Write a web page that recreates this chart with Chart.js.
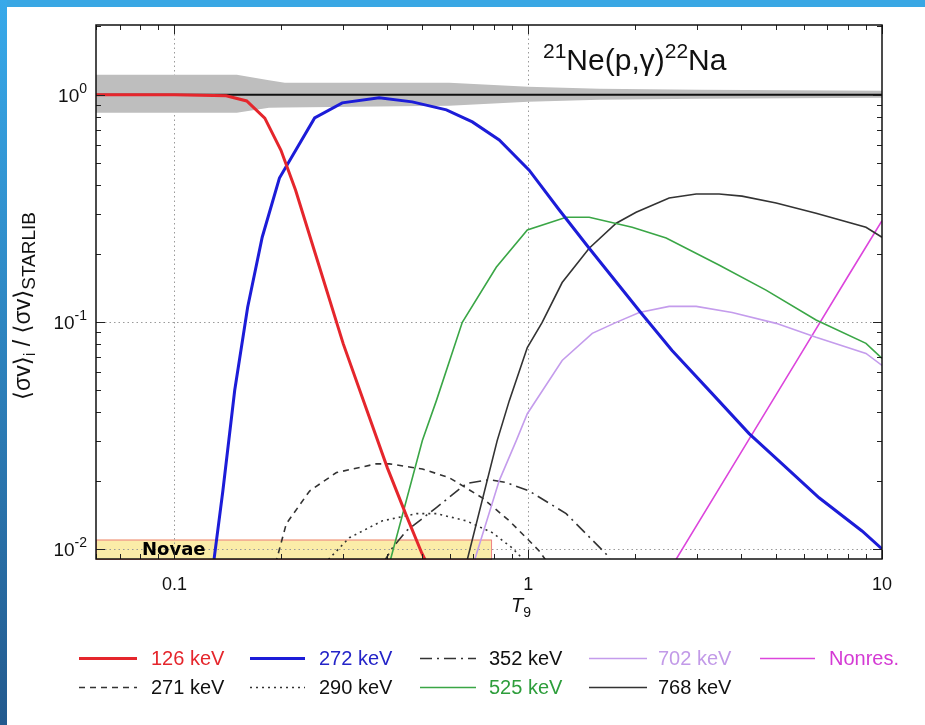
<!DOCTYPE html>
<html>
<head>
<meta charset="utf-8">
<script src="https://cdn.jsdelivr.net/npm/chart.js@4.4.0/dist/chart.umd.min.js"></script>
<style>
  html, body { margin: 0; padding: 0; background: #fff; }
  canvas { display: block; }
</style>
</head>
<body>
<canvas id="c" width="925" height="725"></canvas>
<script>
// Rate ratios <sv>_i / <sv>_STARLIB versus temperature T9 for 21Ne(p,g)22Na

// 126 keV resonance
const t126 = [0.06, 0.10, 0.14, 0.16, 0.18, 0.20, 0.22, 0.25, 0.30, 0.35, 0.40, 0.45, 0.50, 0.53];
const r126 = [1.0, 1.0, 0.99, 0.94, 0.79, 0.57, 0.38, 0.20, 0.080, 0.0407, 0.0227, 0.0143, 0.0096, 0.0080];

// 272 keV resonance
const t272 = [0.129, 0.137, 0.148, 0.161, 0.177, 0.198, 0.249, 0.298, 0.379, 0.470, 0.587, 0.695, 0.828,
              1.006, 1.224, 1.487, 2.06, 2.55, 3.31, 4.21, 5.22, 6.64, 8.78, 10];
const r272 = [0.0087, 0.018, 0.050, 0.116, 0.236, 0.430, 0.791, 0.922, 0.970, 0.931, 0.859, 0.760, 0.633,
              0.466, 0.311, 0.211, 0.112, 0.0748, 0.0483, 0.0322, 0.0237, 0.0168, 0.0120, 0.0100];

// 271 keV resonance
const t271 = [0.193, 0.207, 0.241, 0.287, 0.372, 0.405, 0.502, 0.598, 0.741, 0.884, 0.987, 1.074, 1.14];
const r271 = [0.0086, 0.0129, 0.018, 0.0217, 0.0237, 0.0237, 0.0225, 0.0206, 0.0168, 0.0133, 0.0112, 0.0098, 0.0086];

// 290 keV resonance
const t290 = [0.265, 0.312, 0.387, 0.483, 0.550, 0.668, 0.791, 0.901, 0.995];
const r290 = [0.0086, 0.0112, 0.0133, 0.0143, 0.0143, 0.0133, 0.0118, 0.0101, 0.0086];

// 352 keV resonance
const t352 = [0.388, 0.413, 0.452, 0.550, 0.668, 0.776, 0.867, 1.006, 1.28, 1.66, 1.73];
const r352 = [0.0086, 0.0101, 0.012, 0.0152, 0.0194, 0.0202, 0.0196, 0.018, 0.0143, 0.0095, 0.0086];

// 525 keV resonance
const t525 = [0.405, 0.502, 0.550, 0.651, 0.812, 0.994, 1.28, 1.487, 1.967, 2.454, 3.46, 4.70, 6.51, 9.01, 10];
const r525 = [0.0086, 0.030, 0.045, 0.0995, 0.174, 0.254, 0.289, 0.289, 0.261, 0.234, 0.178, 0.138, 0.102, 0.0804, 0.069];

// 702 keV resonance
const t702 = [0.70, 0.828, 0.925, 0.994, 1.247, 1.517, 1.773, 2.06, 2.502, 2.984, 3.77, 5.02, 6.51, 9.01, 10];
const r702 = [0.0086, 0.020, 0.030, 0.0394, 0.0676, 0.089, 0.0995, 0.110, 0.117, 0.117, 0.110, 0.0985, 0.0855, 0.0726, 0.0643];

// 768 keV resonance
const t768 = [0.668, 0.817, 0.884, 0.994, 1.095, 1.247, 1.487, 1.773, 2.018, 2.502, 2.984, 3.464, 4.02, 5.02, 6.51, 9.01, 10];
const r768 = [0.0086, 0.030, 0.045, 0.0771, 0.0995, 0.149, 0.211, 0.272, 0.304, 0.351, 0.366, 0.366, 0.358, 0.334, 0.301, 0.261, 0.236];

// Non-resonant contribution
const tNonres = [2.5, 4, 6, 8, 10];
const rNonres = [0.0080, 0.0267, 0.0755, 0.158, 0.279];

// STARLIB reference rate and its uncertainty band
const tStarlib = [0.06, 10];
const rStarlib = [1.0, 1.0];
const tBand = [0.06, 0.15, 0.185, 0.205, 0.598, 1.0, 1.587, 3.04, 10];
const bandHigh = [1.225, 1.225, 1.16, 1.13, 1.13, 1.085, 1.063, 1.052, 1.041];
const bandLow = [0.833, 0.833, 0.876, 0.88, 0.894, 0.931, 0.951, 0.960, 0.970];

// Nova temperature range
const novaeT = [0.06, 0.785];
const novaeTop = 0.011;

// Axis ranges and tick labels
const xRange = [0.06, 10];
const yRange = [0.00903, 2.03];
const xMajor = [0.1, 1, 10];
const xMajorLabels = ['0.1', '1', '10'];
const yMajor = [0.01, 0.1, 1];
const yMajorExp = ['-2', '-1', '0'];

const legendRows = [
  ['126 keV', '272 keV', '352 keV', '702 keV', 'Nonres.'],
  ['271 keV', '290 keV', '525 keV', '768 keV']
];

const pts = (t, r) => t.map((x, i) => ({ x, y: r[i] }));

const SANS = '"Liberation Sans", Arial, "DejaVu Sans", sans-serif';

const series = [
  { label: 'bandHigh', data: pts(tBand, bandHigh), borderWidth: 0, borderColor: 'rgba(0,0,0,0)',
    backgroundColor: 'rgb(190,190,190)', fill: '+1', order: 20 },
  { label: 'bandLow', data: pts(tBand, bandLow), borderWidth: 0, borderColor: 'rgba(0,0,0,0)', fill: false, order: 21 },
  { label: 'STARLIB', data: pts(tStarlib, rStarlib), borderColor: '#111', borderWidth: 2, order: 15 },
  { label: '271 keV', data: pts(t271, r271), borderColor: '#333', borderWidth: 1.6, borderDash: [6, 5], order: 8, text: '#111' },
  { label: '290 keV', data: pts(t290, r290), borderColor: '#333', borderWidth: 1.6, borderDash: [2, 4], order: 8, text: '#111' },
  { label: '352 keV', data: pts(t352, r352), borderColor: '#333', borderWidth: 1.6, borderDash: [12, 5, 2, 5], order: 8, text: '#111' },
  { label: '525 keV', data: pts(t525, r525), borderColor: '#3aa646', borderWidth: 1.6, order: 6, text: '#2e9e3c' },
  { label: '702 keV', data: pts(t702, r702), borderColor: '#c49cec', borderWidth: 1.6, order: 6, text: '#c29ae8' },
  { label: '768 keV', data: pts(t768, r768), borderColor: '#333', borderWidth: 1.6, order: 6, text: '#111' },
  { label: 'Nonres.', data: pts(tNonres, rNonres), borderColor: '#dc45dc', borderWidth: 1.6, order: 6, text: '#d43ad4' },
  { label: '272 keV', data: pts(t272, r272), borderColor: '#1c1cd8', borderWidth: 3, order: 2, text: '#2424c8' },
  { label: '126 keV', data: pts(t126, r126), borderColor: '#e5262c', borderWidth: 3, order: 1, text: '#e5262c' }
];

// Draws a sequence of text runs [text, size, dy, fontPrefix] starting at x
function drawRuns(ctx, runs, x, y, align) {
  let total = 0;
  runs.forEach(r => { ctx.font = (r[3] || '') + ' ' + r[1] + 'px ' + SANS; total += ctx.measureText(r[0]).width; });
  let cx = align === 'center' ? x - total / 2 : align === 'right' ? x - total : x;
  ctx.textAlign = 'left';
  ctx.textBaseline = 'alphabetic';
  runs.forEach(r => {
    ctx.font = (r[3] || '') + ' ' + r[1] + 'px ' + SANS;
    ctx.fillText(r[0], cx, y + (r[2] || 0));
    cx += ctx.measureText(r[0]).width;
  });
}

function minorsBetween(lo, hi) {
  const out = [];
  for (let e = Math.floor(Math.log10(lo)); e <= Math.ceil(Math.log10(hi)); e++) {
    for (let m = 1; m <= 9; m++) {
      const v = m * Math.pow(10, e);
      if (v >= lo * 0.999 && v <= hi * 1.001) out.push({ v, major: m === 1 });
    }
  }
  return out;
}

const decor = {
  id: 'decor',
  beforeDraw(chart) {
    const { ctx, width, height } = chart;
    ctx.save();
    ctx.fillStyle = '#fff';
    ctx.fillRect(0, 0, width, height);
    ctx.fillStyle = '#39a7e4';
    ctx.fillRect(0, 0, width, 7);
    const g = ctx.createLinearGradient(0, 0, 0, height);
    g.addColorStop(0, '#37a9ea');
    g.addColorStop(1, '#235a8e');
    ctx.fillStyle = g;
    ctx.fillRect(0, 0, 7, height);
    ctx.restore();
  },
  beforeDatasetsDraw(chart) {
    const { ctx, chartArea: a, scales: { x, y } } = chart;
    ctx.save();
    // nova band
    const nx0 = x.getPixelForValue(novaeT[0]);
    const nx1 = x.getPixelForValue(novaeT[1]);
    const ny0 = y.getPixelForValue(novaeTop);
    ctx.fillStyle = 'rgb(251,236,168)';
    ctx.fillRect(nx0, ny0, nx1 - nx0, a.bottom - ny0);
    ctx.strokeStyle = 'rgb(238,130,130)';
    ctx.lineWidth = 1;
    ctx.strokeRect(nx0 + 0.5, ny0 + 0.5, nx1 - nx0, a.bottom - ny0);
    // dotted grid
    ctx.strokeStyle = '#9a9a9a';
    ctx.setLineDash([1.5, 3]);
    ctx.lineWidth = 1;
    [0.1, 1].forEach(v => {
      const px = Math.round(x.getPixelForValue(v)) + 0.5;
      ctx.beginPath(); ctx.moveTo(px, a.top); ctx.lineTo(px, a.bottom); ctx.stroke();
    });
    [0.01, 0.1].forEach(v => {
      const py = Math.round(y.getPixelForValue(v)) + 0.5;
      ctx.beginPath(); ctx.moveTo(a.left, py); ctx.lineTo(a.right, py); ctx.stroke();
    });
    ctx.setLineDash([]);
    ctx.fillStyle = '#000';
    ctx.font = 'bold 18px "DejaVu Sans", sans-serif';
    ctx.textAlign = 'left';
    ctx.textBaseline = 'alphabetic';
    ctx.fillText('Novae', 142, 555);
    ctx.restore();
  },
  afterDatasetsDraw(chart) {
    const { ctx, chartArea: a, scales: { x, y } } = chart;
    ctx.save();
    // tick marks inside the frame
    ctx.strokeStyle = '#222';
    ctx.lineWidth = 1;
    minorsBetween(xRange[0], xRange[1]).forEach(t => {
      const px = Math.round(x.getPixelForValue(t.v)) + 0.5;
      const len = t.major ? 9 : 5;
      ctx.beginPath();
      ctx.moveTo(px, a.bottom); ctx.lineTo(px, a.bottom - len);
      ctx.moveTo(px, a.top); ctx.lineTo(px, a.top + len);
      ctx.stroke();
    });
    minorsBetween(yRange[0], yRange[1]).forEach(t => {
      const py = Math.round(y.getPixelForValue(t.v)) + 0.5;
      const len = t.major ? 9 : 5;
      ctx.beginPath();
      ctx.moveTo(a.left, py); ctx.lineTo(a.left + len, py);
      ctx.moveTo(a.right, py); ctx.lineTo(a.right - len, py);
      ctx.stroke();
    });
    // frame
    ctx.strokeStyle = '#111';
    ctx.lineWidth = 1.5;
    ctx.strokeRect(a.left, a.top, a.right - a.left, a.bottom - a.top);

    // tick labels
    ctx.fillStyle = '#111';
    xMajor.forEach((v, i) => {
      drawRuns(ctx, [[xMajorLabels[i], 18]], x.getPixelForValue(v), 590, 'center');
    });
    yMajor.forEach((v, i) => {
      const py = y.getPixelForValue(v);
      drawRuns(ctx, [['10', 19], [yMajorExp[i], 14, -9]], 87, py + 7, 'right');
    });

    // axis titles
    drawRuns(ctx, [['T', 20, 0, 'italic'], ['9', 14, 5]], 521, 612, 'center');
    ctx.save();
    ctx.translate(30, 306);
    ctx.rotate(-Math.PI / 2);
    drawRuns(ctx, [['\u27E8\u03C3v\u27E9', 23], ['i', 17, 5], [' / \u27E8\u03C3v\u27E9', 23], ['STARLIB', 19, 5]], 0, 0, 'center');
    ctx.restore();

    // reaction label
    drawRuns(ctx, [['21', 21, -12], ['Ne(p,\u03B3)', 30], ['22', 21, -12], ['Na', 30]], 543, 70, 'left');

    // legend
    const cols = [[79, 137, 151], [250, 305, 319], [420, 476, 489], [589, 647, 658], [760, 815, 829]];
    const rowsY = [658, 687];
    legendRows.forEach((row, ri) => {
      row.forEach((lab, ci) => {
        const ds = chart.data.datasets.find(d => d.label === lab);
        const [l0, l1, tx] = cols[ci];
        const ly = rowsY[ri];
        ctx.strokeStyle = ds.borderColor;
        ctx.lineWidth = ds.borderWidth;
        ctx.setLineDash(ds.borderDash || []);
        ctx.beginPath(); ctx.moveTo(l0, ly + 0.5); ctx.lineTo(l1, ly + 0.5); ctx.stroke();
        ctx.setLineDash([]);
        ctx.fillStyle = ds.text;
        drawRuns(ctx, [[lab, 20]], tx, ly + 7, 'left');
      });
    });
    ctx.restore();
  }
};

new Chart(document.getElementById('c'), {
  type: 'line',
  data: { datasets: series },
  options: {
    responsive: false,
    animation: false,
    devicePixelRatio: 1,
    layout: { padding: { left: 96, right: 43, top: 25, bottom: 166 } },
    elements: { point: { radius: 0, hoverRadius: 0 }, line: { tension: 0, borderCapStyle: 'butt' } },
    plugins: { legend: { display: false }, tooltip: { enabled: false } },
    scales: {
      x: { type: 'logarithmic', min: xRange[0], max: xRange[1], display: false },
      y: { type: 'logarithmic', min: yRange[0], max: yRange[1], display: false }
    }
  },
  plugins: [decor]
});
</script>
</body>
</html>
